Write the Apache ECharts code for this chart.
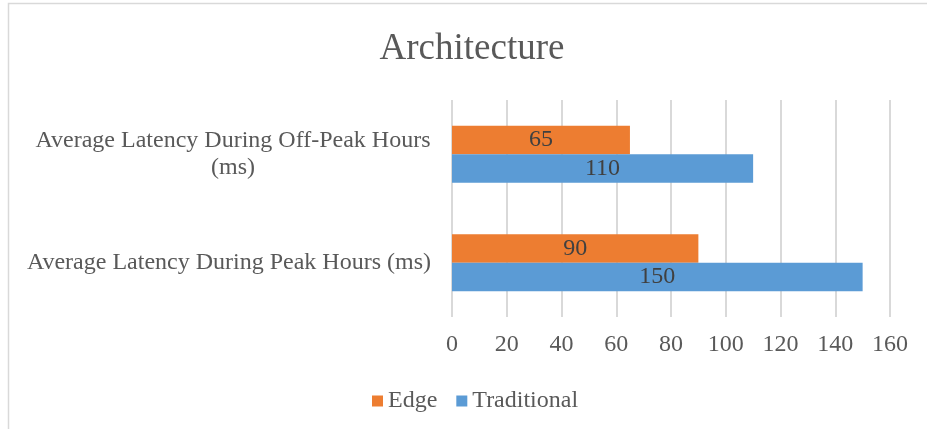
<!DOCTYPE html>
<html>
<head>
<meta charset="utf-8">
<script src="https://cdn.jsdelivr.net/npm/echarts@6/dist/echarts.min.js"></script>
<style>
html,body{margin:0;padding:0;background:#fff;}
#chart{width:927px;height:429px;}
</style>
</head>
<body>
<div id="chart"></div>
<script>
const categories = ['Average Latency During Peak Hours (ms)', 'Average Latency During Off-Peak Hours (ms)'];
const edgeValues = [90, 65];
const traditionalValues = [150, 110];
const xTicks = [0, 20, 40, 60, 80, 100, 120, 140, 160];

const FONT = '"Liberation Serif", "Times New Roman", serif';
const chart = echarts.init(document.getElementById('chart'));
chart.setOption({
  animation: false,
  backgroundColor: '#fff',
  graphic: [{
    type: 'rect',
    shape: { x: 8.5, y: 3.5, width: 940, height: 440 },
    style: { fill: 'none', stroke: '#d9d9d9', lineWidth: 1.5 },
    silent: true
  }],
  title: {
    text: 'Architecture',
    left: 467,
    textAlign: 'center',
    top: 26,
    textStyle: { fontFamily: FONT, fontSize: 37, fontWeight: 'normal', color: '#595959' }
  },
  legend: {
    data: ['Edge', 'Traditional'],
    left: 367,
    top: 384,
    itemWidth: 11,
    itemHeight: 11,
    itemGap: 19,
    icon: 'rect',
    textStyle: { fontFamily: FONT, fontSize: 24, color: '#595959' }
  },
  grid: { left: 452, right: 37, top: 100, bottom: 112, containLabel: false },
  xAxis: {
    type: 'value',
    min: xTicks[0],
    max: xTicks[xTicks.length - 1],
    interval: xTicks[1] - xTicks[0],
    axisLine: { show: false },
    axisTick: { show: false },
    splitLine: { show: true, lineStyle: { color: '#d9d9d9', width: 2 } },
    axisLabel: { fontFamily: FONT, fontSize: 24, color: '#595959', margin: 16 }
  },
  yAxis: {
    type: 'category',
    data: categories,
    axisLine: { show: false },
    axisTick: { show: false },
    splitLine: { show: false },
    axisLabel: {
      margin: 21,
      align: 'right',
      fontFamily: FONT,
      fontSize: 24,
      color: '#595959',
      lineHeight: 27,
      formatter: function (v) {
        if (v.indexOf('Off-Peak') >= 0) {
          return '{a|Average Latency During Off-Peak Hours}\n{a|(ms)}';
        }
        return v;
      },
      rich: {
        a: { width: 396, align: 'center', fontFamily: FONT, fontSize: 24, color: '#595959', lineHeight: 27 }
      }
    }
  },
  series: [
    {
      name: 'Edge',
      type: 'bar',
      data: edgeValues,
      barWidth: 28.5,
      barGap: '0%',
      itemStyle: { color: '#ED7D31' },
      label: { show: true, position: 'inside', fontFamily: FONT, fontSize: 24, color: '#404040' }
    },
    {
      name: 'Traditional',
      type: 'bar',
      data: traditionalValues,
      barWidth: 28.5,
      barGap: '0%',
      itemStyle: { color: '#5B9BD5' },
      label: { show: true, position: 'inside', fontFamily: FONT, fontSize: 24, color: '#404040' }
    }
  ]
});
</script>
</body>
</html>
